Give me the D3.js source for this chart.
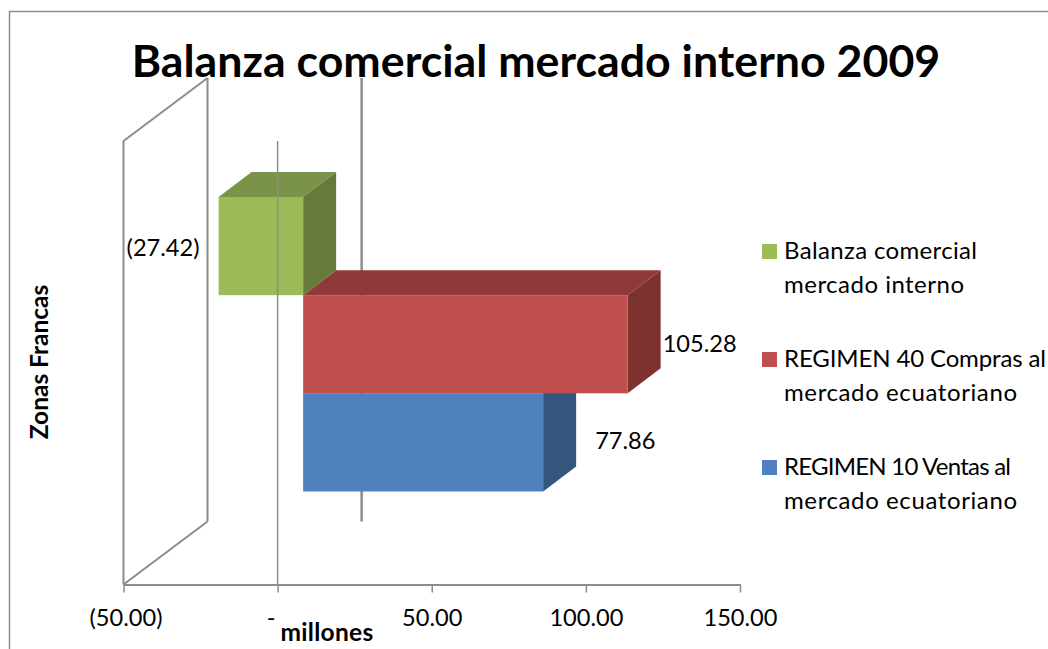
<!DOCTYPE html>
<html>
<head>
<meta charset="utf-8">
<script src="https://cdn.jsdelivr.net/npm/d3@7"></script>
<style>
  html, body { margin: 0; padding: 0; background: #fff; }
  svg { display: block; }
  text { font-family: Lato, "Open Sans", sans-serif; fill: #000; }
</style>
</head>
<body>
<svg></svg>
<script>
// chart data
var chartTitle = "Balanza comercial mercado interno 2009";
var categoryName = "Zonas Francas";
var valueAxisName = "millones";
var seriesNames = ["REGIMEN 10 Ventas al mercado ecuatoriano",
                   "REGIMEN 40 Compras al mercado ecuatoriano",
                   "Balanza comercial mercado interno"];
var seriesValues = [77.86, 105.28, -27.42];
var tickValues = [-50, 0, 50, 100, 150];
var legendLines = [["REGIMEN 10 Ventas al", "mercado ecuatoriano"],
                   ["REGIMEN 40 Compras al", "mercado ecuatoriano"],
                   ["Balanza comercial", "mercado interno"]];

var width = 1048,
    height = 649;

// colours per series: front, top, side
var colors = [{front: "#4f81bd", top: "#3f6797", side: "#34557c"},
              {front: "#c0504d", top: "#8f3a38", side: "#7d3230"},
              {front: "#9bbb59", top: "#7a9348", side: "#667a3a"}];

// excel style 3d offsets
var wallDepth = {x: 84, y: -63},
    barDepth = {x: 33, y: -25},
    barOffset = 25.5;

var floorY = 584.5,
    wallTop = 141;

var xScale = d3.scaleLinear().domain([-50, 150]).range([123.5, 740]);
var yScale = d3.scaleBand().domain(seriesNames).range([491.5, 197]);

var fmt = d3.format(".2f");
function money(v) {
  if (v === 0) return "-";
  return v < 0 ? "(" + fmt(-v) + ")" : fmt(v);
}

var svg = d3.select("svg")
            .attr("width", width)
            .attr("height", height);

// outer chart frame, cut off by the picture on the right and bottom
svg.append("path")
   .attr("d", "M9.5,649V11.5H1048")
   .attr("fill", "none")
   .attr("stroke", "#8e8e8e")
   .attr("stroke-width", 1.5);

var gridColor = "#8c8c8c";

function line(x1, y1, x2, y2, w) {
  svg.append("line")
     .attr("x1", x1).attr("y1", y1)
     .attr("x2", x2).attr("y2", y2)
     .attr("stroke", gridColor)
     .attr("stroke-width", w || 2);
}

// back wall and side wall
var x0 = xScale(-50),
    xz = xScale(0);
line(x0, wallTop, x0, floorY);
line(x0, wallTop, x0 + wallDepth.x, wallTop + wallDepth.y);
line(x0 + wallDepth.x, wallTop + wallDepth.y, x0 + wallDepth.x, floorY + wallDepth.y);
line(x0, floorY, x0 + wallDepth.x, floorY + wallDepth.y);
line(xz + wallDepth.x, wallTop + wallDepth.y, xz + wallDepth.x, floorY + wallDepth.y, 2.5);

// bars, bottom one first so upper ones sit on top
seriesNames.forEach(function(name, i) {
  var v = seriesValues[i],
      xa = xScale(Math.min(v, 0)) + barOffset,
      xb = xScale(Math.max(v, 0)) + barOffset,
      yt = yScale(name),
      yb = yt + yScale.bandwidth(),
      g = svg.append("g").attr("class", "bar");

  g.append("path")
   .attr("fill", colors[i].top)
   .attr("d", d3.line()([[xa, yt], [xa + barDepth.x, yt + barDepth.y],
                         [xb + barDepth.x, yt + barDepth.y], [xb, yt]]) + "Z");
  g.append("path")
   .attr("fill", colors[i].side)
   .attr("d", d3.line()([[xb, yt], [xb + barDepth.x, yt + barDepth.y],
                         [xb + barDepth.x, yb + barDepth.y], [xb, yb]]) + "Z");
  g.append("rect")
   .attr("x", xa)
   .attr("y", yt)
   .attr("width", xb - xa)
   .attr("height", yb - yt)
   .attr("fill", colors[i].front);
});

// zero line in front of the bars
line(xz, wallTop, xz, floorY, 1.5);

// value axis
var xAxis = d3.axisBottom(xScale)
              .tickValues(tickValues)
              .tickSize(8)
              .tickSizeOuter(0)
              .tickPadding(17)
              .tickFormat(money);

var axisG = svg.append("g")
               .attr("transform", "translate(0," + floorY + ")")
               .call(xAxis);
axisG.select(".domain").attr("stroke", gridColor).attr("stroke-width", 2);
axisG.selectAll(".tick line").attr("stroke", gridColor).attr("stroke-width", 1.5);
axisG.selectAll(".tick text")
     .style("font-family", "Lato")
     .attr("font-size", 23.6)
     .attr("fill", "#000")
     .attr("dx", function(d) { return d === 0 ? -7 : (d < 0 ? 2 : 0); });

// data labels: end of the bar plus a shift for each label
var labelShift = [{x: 52, y: 55.5}, {x: 35, y: 57}, {x: -92, y: 59}];
seriesNames.forEach(function(name, i) {
  var v = seriesValues[i];
  svg.append("text")
     .attr("x", xScale(v) + barOffset + labelShift[i].x)
     .attr("y", yScale(name) + labelShift[i].y)
     .attr("font-size", 23.6)
     .text(money(v));
});

// legend, top entry is the last series
// line widths fitted to the reference since Calibri is not installed
var legendWidths = [[227, 233], [262, 233], [193, 180]];
var legendY = d3.scalePoint().domain(seriesNames.slice().reverse()).range([244, 460]);
seriesNames.forEach(function(name, i) {
  var y = legendY(name);
  svg.append("rect")
     .attr("x", 762).attr("y", y)
     .attr("width", 15).attr("height", 15)
     .attr("fill", colors[i].front);
  legendLines[i].forEach(function(t, j) {
    svg.append("text")
       .attr("x", 784)
       .attr("y", y + 15 + j * 34)
       .attr("font-size", 24)
       .attr("textLength", legendWidths[i][j])
       .attr("lengthAdjust", "spacing")
       .text(t);
  });
});

// titles
svg.append("text")
   .attr("x", 536)
   .attr("y", 77)
   .attr("text-anchor", "middle")
   .attr("font-size", 44.7)
   .attr("font-weight", 700)
   .text(chartTitle);

svg.append("text")
   .attr("x", 327)
   .attr("y", 641)
   .attr("text-anchor", "middle")
   .attr("font-size", 24.5)
   .attr("font-weight", 700)
   .attr("letter-spacing", 0.3)
   .text(valueAxisName);

svg.append("text")
   .attr("transform", "translate(48,362) rotate(-90)")
   .attr("text-anchor", "middle")
   .attr("font-size", 24.5)
   .attr("font-weight", 700)
   .text(categoryName);
</script>
</body>
</html>
